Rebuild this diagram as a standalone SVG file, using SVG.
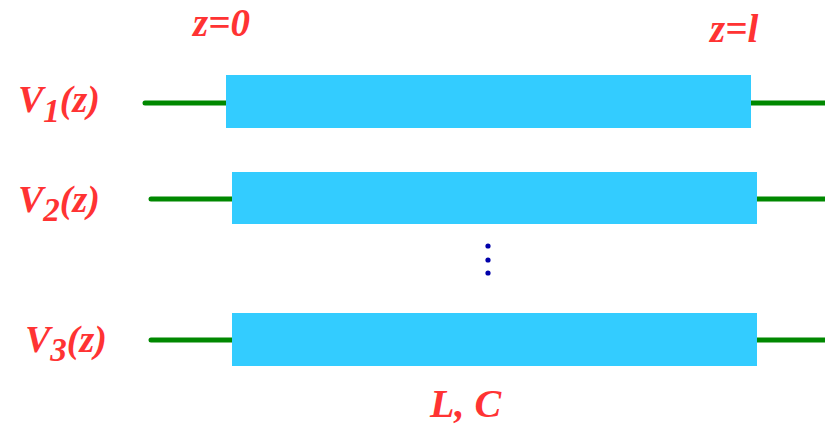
<svg xmlns="http://www.w3.org/2000/svg" width="825" height="427" viewBox="0 0 825 427">
<style>
.t{font-family:"Liberation Serif","Times New Roman",serif;font-style:italic;font-weight:bold;fill:#FF3333;font-size:38px}
.s{font-size:33px}
.w{stroke:#008800;stroke-width:5;stroke-linecap:round;fill:none}
.b{fill:#33CCFF}
.d{fill:#0000AA}
</style>
<rect width="825" height="427" fill="#FFFFFF"/>
<g id="connectors">
<line class="w" x1="145" y1="103" x2="226" y2="103"/>
<line class="w" x1="751" y1="103" x2="830" y2="103"/>
<line class="w" x1="151" y1="199" x2="232" y2="199"/>
<line class="w" x1="757" y1="199" x2="830" y2="199"/>
<line class="w" x1="151" y1="340" x2="232" y2="340"/>
<line class="w" x1="757" y1="340" x2="830" y2="340"/>
</g>
<g id="line1"><rect class="b" x="226" y="75" width="525" height="53"/></g>
<g id="line2"><rect class="b" x="232" y="172" width="525" height="52"/></g>
<g id="line3"><rect class="b" x="232" y="313" width="525" height="53"/></g>
<g id="dots">
<circle class="d" cx="488" cy="246" r="2.6"/>
<circle class="d" cx="488" cy="260" r="2.6"/>
<circle class="d" cx="488" cy="273" r="2.6"/>
</g>
<g id="labels">
<text class="t" x="193" y="36" style="font-size:39px">z=0</text>
<text class="t" x="710" y="42" style="font-size:39px">z=l</text>
<text class="t" x="18" y="112">V<tspan class="s" dy="10">1</tspan><tspan dy="-10">(z)</tspan></text>
<text class="t" x="18" y="212">V<tspan class="s" dy="9">2</tspan><tspan dy="-9">(z)</tspan></text>
<text class="t" x="25" y="352">V<tspan class="s" dy="9">3</tspan><tspan dy="-9">(z)</tspan></text>
<text class="t" x="430" y="417" style="font-size:40px">L, C</text>
</g>
</svg>
